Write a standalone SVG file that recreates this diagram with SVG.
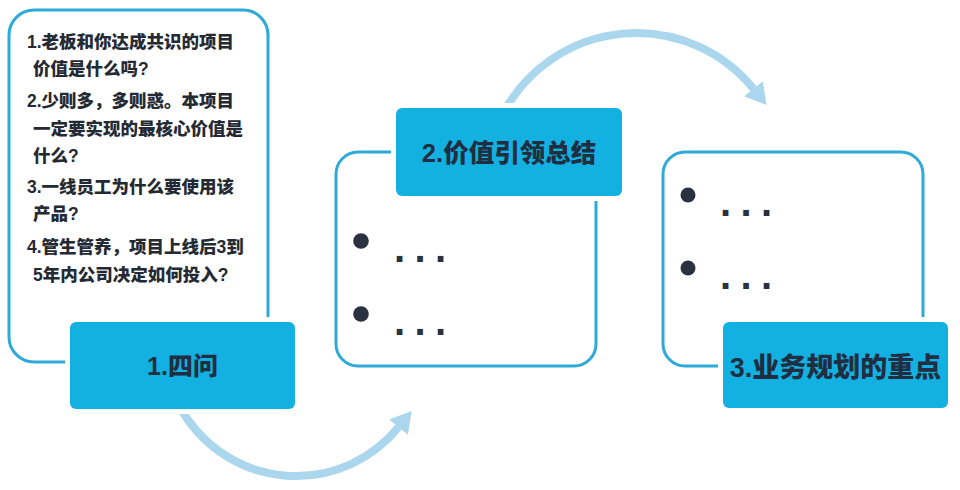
<svg xmlns="http://www.w3.org/2000/svg" width="960" height="490" viewBox="0 0 960 490">
<style>
.outline{fill:#fff;stroke:#2eaad9;stroke-width:3}
.tag{fill:#13b1e2;stroke:#fff;stroke-width:10;paint-order:stroke}
.title{font-family:"Liberation Sans","Noto Sans CJK SC",sans-serif;font-weight:900;fill:#1f2e40;text-anchor:middle}
.q{font-family:"Liberation Sans","Noto Sans CJK SC",sans-serif;font-weight:900;font-size:17.5px;fill:#242a33}
.dot{fill:#2a3140}
.ell{font-family:"Liberation Sans",sans-serif;font-weight:bold;font-size:40px;letter-spacing:9.4px;fill:#2a3140}
.arc{fill:none;stroke:#aad6ee;stroke-width:8}
</style>
<defs>
<marker id="ah" markerUnits="userSpaceOnUse" markerWidth="24" markerHeight="24" refX="0" refY="11" orient="auto" viewBox="0 0 20 22">
<path d="M0,0 L19,11 L0,22 Z" fill="#aad6ee"/>
</marker>
</defs>
<g id="connectors">
<path class="arc" d="M179.5,406 A132,132 0 0 0 398.6,427.1" marker-end="url(#ah)"/>
<path class="arc" d="M504.7,110.6 A150.7,150.7 0 0 1 753.5,88.8" marker-end="url(#ah)"/>
</g>
<g id="node1">
<rect class="outline" x="9" y="10" width="259" height="352" rx="25"/>
<text class="q" x="27" y="48">1.老板和你达成共识的项目</text>
<text class="q" x="33" y="75">价值是什么吗?</text>
<text class="q" x="27" y="107">2.少则多，多则惑。本项目</text>
<text class="q" x="33" y="134.5">一定要实现的最核心价值是</text>
<text class="q" x="33" y="161.5">什么?</text>
<text class="q" x="27" y="192.5">3.一线员工为什么要使用该</text>
<text class="q" x="33" y="220">产品?</text>
<text class="q" x="27" y="252.5">4.管生管养，项目上线后3到</text>
<text class="q" x="33" y="280.5">5年内公司决定如何投入?</text>
<rect class="tag" x="70" y="322" width="225" height="87" rx="6"/>
<text class="title" x="182.5" y="375" font-size="25">1.四问</text>
</g>
<g id="node2">
<rect class="outline" x="336" y="152" width="260" height="214" rx="22"/>
<circle class="dot" cx="361" cy="241" r="7.8"/>
<text class="ell" x="394" y="262">...</text>
<circle class="dot" cx="361" cy="314" r="7.8"/>
<text class="ell" x="394" y="335">...</text>
<rect class="tag" x="396" y="108" width="226" height="88" rx="6"/>
<text class="title" x="509" y="162" font-size="25.5">2.价值引领总结</text>
</g>
<g id="node3">
<rect class="outline" x="663" y="152" width="260" height="214" rx="22"/>
<circle class="dot" cx="688" cy="195" r="7.5"/>
<text class="ell" x="720" y="216">...</text>
<circle class="dot" cx="688" cy="268" r="7.5"/>
<text class="ell" x="720" y="289">...</text>
<rect class="tag" x="723" y="322" width="225" height="86" rx="6"/>
<text class="title" x="835.5" y="376.5" font-size="27">3.业务规划的重点</text>
</g>
</svg>
